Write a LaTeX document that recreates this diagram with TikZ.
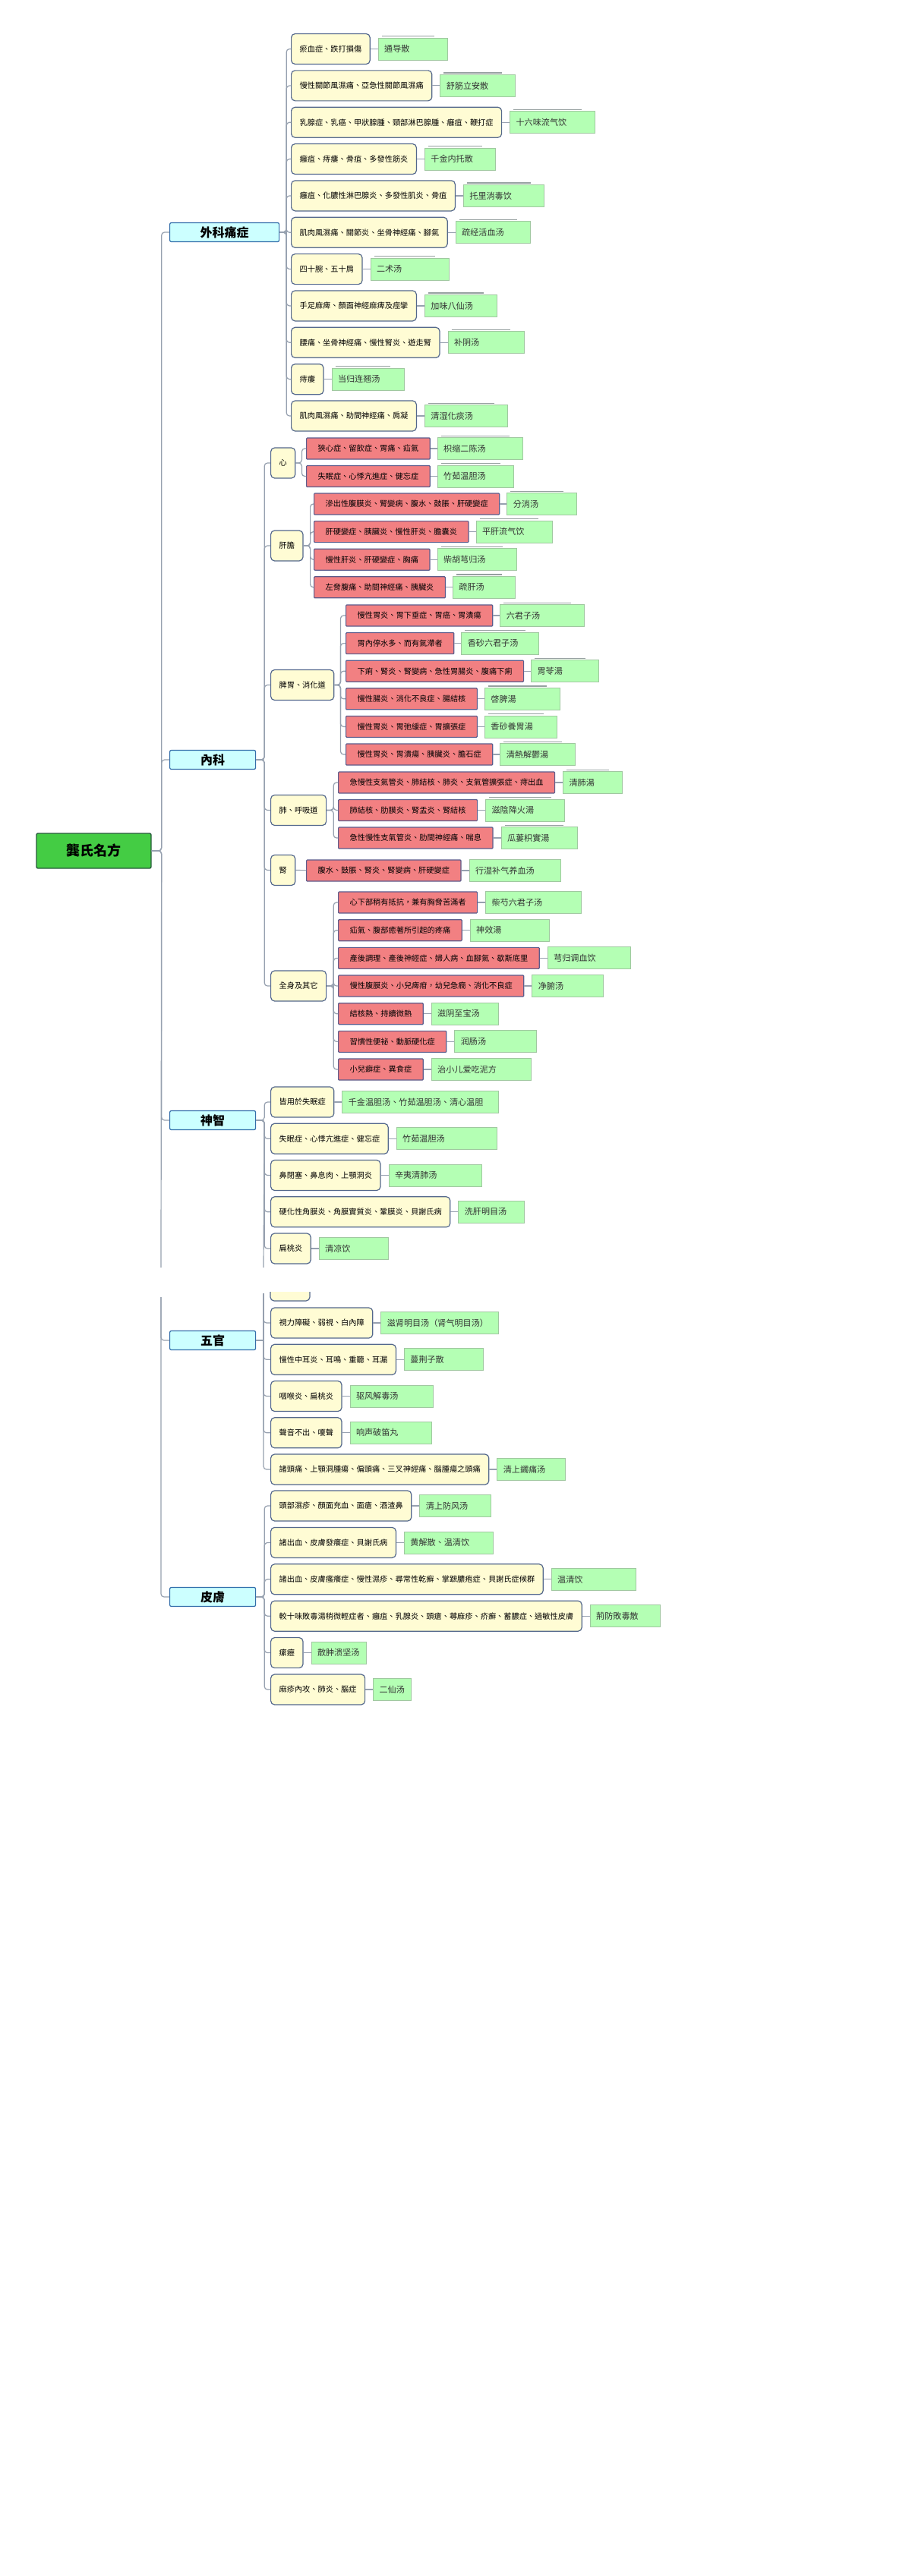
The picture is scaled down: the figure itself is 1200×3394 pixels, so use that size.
\documentclass[tikz,border=0pt]{standalone}
\usepackage{fontspec}
\setmainfont{Noto Sans CJK TC}
\usetikzlibrary{positioning,calc,backgrounds}
\definecolor{cream}{RGB}{255,252,212}
\definecolor{boxline}{RGB}{84,104,140}
\definecolor{coral}{RGB}{242,128,130}
\definecolor{hotline}{RGB}{92,92,140}
\definecolor{mint}{RGB}{180,255,180}
\definecolor{fangline}{RGB}{160,200,160}
\definecolor{rimgray}{RGB}{150,160,160}
\definecolor{catcyan}{RGB}{204,255,255}
\definecolor{catline}{RGB}{50,110,170}
\definecolor{rootgreen}{RGB}{68,204,68}
\definecolor{rootline}{RGB}{40,90,60}
\definecolor{linkgray}{RGB}{150,160,175}
\tikzset{
  link/.style={draw=linkgray,line width=0.6pt,rounded corners=2pt},
  rim/.style={draw=rimgray,line width=0.6pt},
  root/.style={draw=rootline,fill=rootgreen,line width=0.7pt,rounded corners=1pt,minimum width=75.5pt,minimum height=23pt,font=\bfseries\fontsize{9pt}{10pt}\selectfont},
  cat/.style={draw=catline,fill=catcyan,line width=0.6pt,rounded corners=1pt,anchor=west,minimum width=56.5pt,minimum height=12.5pt,inner sep=1pt,font=\bfseries\fontsize{8pt}{9pt}\selectfont},
  sym/.style={draw=boxline,fill=cream,line width=0.6pt,rounded corners=2.5pt,anchor=west,minimum height=20pt,inner xsep=5.5pt,font=\fontsize{5.1pt}{6pt}\selectfont},
  hot/.style={draw=hotline,fill=coral,line width=0.6pt,rounded corners=0.5pt,anchor=west,minimum height=14pt,inner xsep=7.5pt,font=\fontsize{5.1pt}{6pt}\selectfont},
  fang/.style={draw=fangline,fill=mint,line width=0.4pt,minimum height=14.5pt,inner xsep=4pt,align=left,text=black!80,font=\fontsize{5.55pt}{6.5pt}\selectfont},
}
\begin{document}
\begin{tikzpicture}[x=0.5pt,y=-0.5pt]
  \fill[white] (0,0) rectangle (1200,3394);
  \useasboundingbox (0,0) rectangle (1200,3394);

  \node[root] (root) at (123.5,1121) {龔氏名方};
  \node[cat,minimum width=72pt] (wk) at (223,306) {外科痛症};
  \node[cat] (nk) at (223,1001) {內科};
  \node[cat] (sz) at (223,1476) {神智};
  \node[cat] (wg) at (223,1766) {五官};
  \node[cat] (pf) at (223,2104) {皮膚};
  \coordinate (cutA) at (212,1670);
  \coordinate (cutB) at (212,1709);
  \foreach \c in {wk,nk,sz}{\draw[link] (root.east) -- ++(13,0) |- (\c.west);}
  \draw[link] (root.east) -- ++(13,0) -- (cutA);
  \foreach \c in {wg,pf}{\draw[link] (cutB) |- (\c.west);}

  % 外科痛症
  \foreach \i/\d/\f/\w in {1/瘀血症、跌打損傷/通导散/91,2/慢性關節風濕痛、亞急性關節風濕痛/舒筋立安散/99,
      3/乳腺症、乳癌、甲狀腺腫、頸部淋巴腺腫、癰疽、鞭打症/十六味流气饮/112,4/癰疽、痔瘻、骨疽、多發性筋炎/千金内托散/93,
      5/癰疽、化膿性淋巴腺炎、多發性肌炎、骨疽/托里消毒饮/106,6/肌肉風濕痛、關節炎、坐骨神經痛、腳氣/疏经活血汤/98,
      7/四十腕、五十肩/二术汤/103,8/手足麻痺、顏面神經麻痺及痙攣/加味八仙汤/95,
      9/腰痛、坐骨神經痛、慢性腎炎、遊走腎/补阴汤/100,10/痔瘻/当归连翘汤/95,11/肌肉風濕痛、助間神經痛、肩凝/清湿化痰汤/109}{
    \node[sym] (wk\i) at (383,{64.5+48.35*(\i-1)}) {\d};
    \pgfmathsetmacro\tw{(\w-16)/2}
    \node[fang,text width=\tw pt,right=5pt of wk\i] (wkf\i) {\f};
    \draw[rim] ($(wkf\i.north west)+(5,-2)$) -- ($(wkf\i.north east)+(-18,-2)$);
    \draw[link] (wk.east) -- ++(9,0) |- (wk\i.west);
    \draw[link] (wk\i) -- (wkf\i);
  }

  % 內科
  \node[sym] (xin) at (356,610) {心};
  \node[sym] (gd) at (356,719) {肝膽};
  \node[sym] (pw) at (356,902.5) {脾胃、消化道};
  \node[sym] (fei) at (356,1067.5) {肺、呼吸道};
  \node[sym] (shen) at (356,1146.5) {腎};
  \node[sym] (qs) at (356,1299) {全身及其它};
  \foreach \c in {xin,gd,pw,fei,shen,qs}{\draw[link] (nk.east) -- ++(11,0) |- (\c.west);}

  \foreach \i/\d/\f/\w in {1/狹心症、留飲症、胃痛、疝氣/枳缩二陈汤/112,2/失眠症、心悸亢進症、健忘症/竹茹温胆汤/100}{
    \node[hot] (xin\i) at (403,{591+36.5*(\i-1)}) {\d};
    \pgfmathsetmacro\tw{(\w-16)/2}
    \node[fang,text width=\tw pt,right=4.5pt of xin\i] (xinf\i) {\f};
    \draw[rim] ($(xinf\i.north west)+(5,-2)$) -- ($(xinf\i.north east)+(-18,-2)$);
    \draw[link] (xin.east) -- ++(8,0) |- (xin\i.west);
    \draw[link] (xin\i) -- (xinf\i);
  }
  \foreach \i/\d/\f/\w in {1/滲出性腹膜炎、腎變病、腹水、鼓脹、肝硬變症/分消汤/92,2/肝硬變症、胰臟炎、慢性肝炎、膽囊炎/平肝流气饮/100,
      3/慢性肝炎、肝硬變症、胸痛/柴胡芎归汤/104,4/左脅腹痛、助間神經痛、胰臟炎/疏肝汤/82}{
    \node[hot] (gd\i) at (413,{664+36.6*(\i-1)}) {\d};
    \pgfmathsetmacro\tw{(\w-16)/2}
    \node[fang,text width=\tw pt,right=4.5pt of gd\i] (gdf\i) {\f};
    \draw[rim] ($(gdf\i.north west)+(5,-2)$) -- ($(gdf\i.north east)+(-18,-2)$);
    \draw[link] (gd.east) -- ++(9,0) |- (gd\i.west);
    \draw[link] (gd\i) -- (gdf\i);
  }
  \foreach \i/\d/\f/\w in {1/慢性胃炎、胃下垂症、胃癌、胃潰瘍/六君子汤/111,2/胃內停水多、而有氣滯者/香砂六君子汤/102,
      3/下痢、腎炎、腎變病、急性胃腸炎、腹痛下痢/胃苓湯/89,4/慢性腸炎、消化不良症、腸結核/啓脾湯/99,
      5/慢性胃炎、胃弛緩症、胃擴張症/香砂養胃湯/95,6/慢性胃炎、胃潰瘍、胰臟炎、膽石症/清熱解鬱湯/99}{
    \node[hot] (pw\i) at (455,{811+36.6*(\i-1)}) {\d};
    \pgfmathsetmacro\tw{(\w-16)/2}
    \node[fang,text width=\tw pt,right=4.5pt of pw\i] (pwf\i) {\f};
    \draw[rim] ($(pwf\i.north west)+(5,-2)$) -- ($(pwf\i.north east)+(-18,-2)$);
    \draw[link] (pw.east) -- ++(8,0) |- (pw\i.west);
    \draw[link] (pw\i) -- (pwf\i);
  }
  \foreach \i/\d/\f/\w in {1/急慢性支氣管炎、肺結核、肺炎、支氣管擴張症、痔出血/清肺湯/78,2/肺結核、肋膜炎、腎盂炎、腎結核/滋陰降火湯/104,
      3/急性慢性支氣管炎、肋間神經痛、喘息/瓜蔞枳實湯/100}{
    \node[hot] (fei\i) at (445,{1031+36.5*(\i-1)}) {\d};
    \pgfmathsetmacro\tw{(\w-16)/2}
    \node[fang,text width=\tw pt,right=5pt of fei\i] (feif\i) {\f};
    \draw[rim] ($(feif\i.north west)+(5,-2)$) -- ($(feif\i.north east)+(-18,-2)$);
    \draw[link] (fei.east) -- ++(9,0) |- (fei\i.west);
    \draw[link] (fei\i) -- (feif\i);
  }
  \node[hot] (shen1) at (403,1147) {腹水、鼓脹、腎炎、腎變病、肝硬變症};
  \node[fang,text width=52pt,right=5pt of shen1] (shenf1) {行湿补气养血汤};
  \draw[link] (shen) -- (shen1);
  \draw[link] (shen1) -- (shenf1);
  \foreach \i/\d/\f/\w in {1/心下部稍有抵抗，兼有胸脅苦滿者/柴芍六君子汤/126,2/疝氣、腹部癒著所引起的疼痛/神效湯/104,
      3/產後調理、產後神經症、婦人病、血腳氣、歇斯底里/芎归调血饮/109,4/慢性腹膜炎、小兒痺疳，幼兒急癇、消化不良症/净腑汤/94,
      5/結核熱、持續微熱/滋阴至宝汤/88,6/習慣性便祕、動脈硬化症/润肠汤/108,7/小兒癖症、異食症/治小儿爱吃泥方/131}{
    \node[hot] (qs\i) at (445,{1189+36.67*(\i-1)}) {\d};
    \pgfmathsetmacro\tw{(\w-16)/2}
    \node[fang,text width=\tw pt,right=5pt of qs\i] (qsf\i) {\f};
    \draw[link] (qs.east) -- ++(9,0) |- (qs\i.west);
    \draw[link] (qs\i) -- (qsf\i);
  }

  % 神智
  \foreach \i/\d/\f/\w in {1/皆用於失眠症/千金温胆汤、竹茹温胆汤、清心温胆/206,2/失眠症、心悸亢進症、健忘症/竹茹温胆汤/132,
      3/鼻閉塞、鼻息肉、上顎洞炎/辛夷清肺汤/122,4/硬化性角膜炎、角膜實質炎、鞏膜炎、貝謝氏病/洗肝明目汤/87,5/扁桃炎/清凉饮/91}{
    \node[sym] (sz\i) at (356,{1452+48.25*(\i-1)}) {\d};
    \pgfmathsetmacro\tw{(\w-16)/2}
    \node[fang,text width=\tw pt,right=5pt of sz\i] (szf\i) {\f};
    \draw[link] (sz.east) -- ++(11,0) |- (sz\i.west);
    \draw[link] (sz\i) -- (szf\i);
  }
  \coordinate (cutC) at (347,1670);
  \draw[link] (sz.east) -- ++(11,0) -- (cutC);

  % 五官
  \coordinate (cutD) at (347,1704);
  \filldraw[fill=cream,draw=boxline,line width=0.6pt,rounded corners=2.5pt] (356,1702) -- (356,1714) -- (408,1714) -- (408,1702);
  \foreach \i/\d/\f/\w in {1/視力障礙、弱視、白內障/滋肾明目汤（肾气明目汤）/155,2/慢性中耳炎、耳鳴、重聽、耳漏/蔓荆子散/104,
      3/咽喉炎、扁桃炎/驱风解毒汤/109,4/聲音不出、嗄聲/响声破笛丸/107,5/諸頭痛、上顎洞腫瘍、偏頭痛、三叉神經痛、腦腫瘍之頭痛/清上蠲痛汤/90}{
    \node[sym] (wg\i) at (356,{1743+48.25*(\i-1)}) {\d};
    \pgfmathsetmacro\tw{(\w-16)/2}
    \node[fang,text width=\tw pt,right=5pt of wg\i] (wgf\i) {\f};
    \draw[link] (cutD) |- (wg\i.west);
    \draw[link] (wg\i) -- (wgf\i);
  }
  \draw[link] (wg.east) -- ++(11,0);

  % 皮膚
  \foreach \i/\d/\f/\w in {1/頭部濕疹、顏面充血、面瘡、酒渣鼻/清上防风汤/94,2/諸出血、皮膚發癢症、貝謝氏病/黄解散、温清饮/117,
      3/諸出血、皮膚瘙癢症、慢性濕疹、尋常性乾癬、掌蹠膿疱症、貝謝氏症候群/温清饮/111,
      4/較十味敗毒湯稍微輕症者、癰疽、乳腺炎、頭瘡、蕁麻疹、疥癬、蓄膿症、過敏性皮膚/荊防敗毒散/92,
      5/瘰癧/散肿溃坚汤/72,6/麻疹內攻、肺炎、腦症/二仙汤/50}{
    \node[sym] (pf\i) at (356,{1984+48.4*(\i-1)}) {\d};
    \pgfmathsetmacro\tw{(\w-16)/2}
    \node[fang,text width=\tw pt,right=5pt of pf\i] (pff\i) {\f};
    \draw[link] (pf.east) -- ++(11,0) |- (pf\i.west);
    \draw[link] (pf\i) -- (pff\i);
  }
  \begin{scope}[on background layer]
    \foreach \i in {5,6}{\draw[draw=fangline,fill=mint,line width=0.4pt] ($(pff\i.north east)+(-10,2)$) rectangle ($(pff\i.south east)+(14,-2)$);}
  \end{scope}
\end{tikzpicture}
\end{document}
